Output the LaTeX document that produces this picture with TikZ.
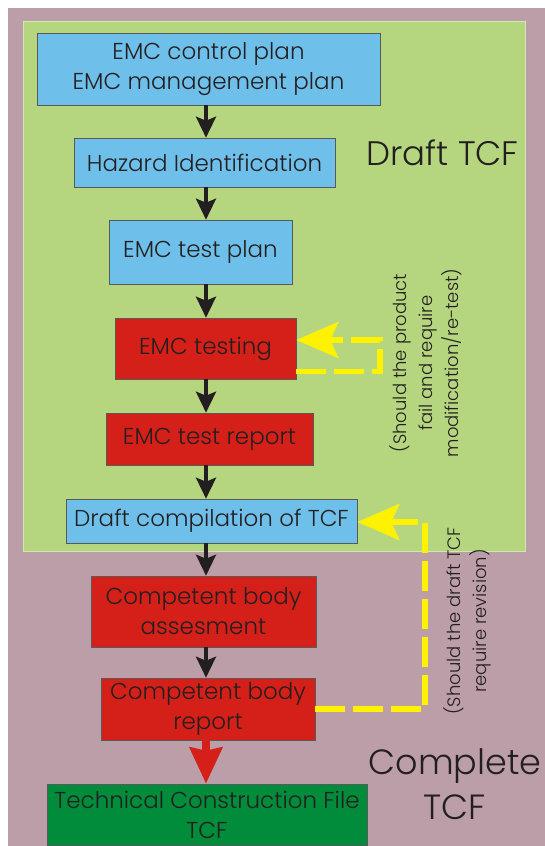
\documentclass[tikz,border=0pt]{standalone}
\usepackage{fontspec}
\setmainfont{Poppins}[UprightFont=* Light]
\usetikzlibrary{arrows.meta}

\definecolor{mauve}{HTML}{BC9EA8}
\definecolor{draftgreen}{HTML}{B5D67E}
\definecolor{stepblue}{HTML}{6EC0EA}
\definecolor{stepred}{HTML}{D42018}
\definecolor{filegreen}{HTML}{008C3A}
\definecolor{loopyellow}{HTML}{FFF200}
\definecolor{ink}{HTML}{231F20}

\tikzset{
	stepbox/.style={draw=black!65, line width=0.6pt, text=ink, align=center,
		font=\fontsize{23}{30}\selectfont, inner sep=0pt},
	bluebox/.style={stepbox, fill=stepblue},
	redbox/.style={stepbox, fill=stepred},
	flow/.style={line width=3.5pt, draw=ink, -{Stealth[length=21pt,width=20pt,inset=4pt]}},
	redflow/.style={line width=8pt, draw=stepred, -{Stealth[length=36pt,width=32pt,inset=3pt]}},
	retest/.style={line width=5.5pt, draw=loopyellow, dash pattern=on 30pt off 8pt,
		-{Stealth[length=42pt,width=36pt,inset=8pt,fill=loopyellow]}},
	note/.style={rotate=90, align=center, text=ink, font=\fontsize{18}{26}\selectfont},
	bigtext/.style={align=center, text=ink, font=\fontsize{34}{45}\selectfont}
}

\begin{document}
\begin{tikzpicture}[x=1pt,y=-1pt]
		%%%%% START %%%%%
		\useasboundingbox (0,0) rectangle (545,846);
		
		\fill[mauve] (7.5,7.5) rectangle (545,846);
		\draw[draftgreen!60!white, line width=0.8pt, fill=draftgreen] (23.5,21.7) rectangle (525,551);
		
		\coordinate (axis) at (206,0);
		
		\node[bluebox, minimum width=343pt, minimum height=72pt] (plan) at (208.5,69) {EMC control plan\\EMC management plan};
		\node[bluebox, minimum width=261pt, minimum height=49pt] (hazard) at (204.5,162.5) {Hazard Identification};
		\node[bluebox, minimum width=183pt, minimum height=64pt] (testplan) at (200.5,252) {EMC test plan};
		\node[redbox, minimum width=181pt, minimum height=61pt] (testing) at (205.5,348.5) {EMC testing};
		\node[redbox, minimum width=207pt, minimum height=52pt] (report) at (209.5,439) {EMC test report};
		\node[bluebox, minimum width=291pt, minimum height=44pt] (draft) at (211.5,521) {Draft compilation of TCF};
		
		\node[redbox, minimum width=225pt, minimum height=71pt] (assess) at (203.5,611.5) {Competent body\\assesment};
		\node[redbox, minimum width=214pt, minimum height=62pt] (cbreport) at (208,709) {Competent body\\report};
		\node[stepbox, fill=filegreen, minimum width=320pt, minimum height=61pt] (tcf) at (207,814.5) {Technical Construction File\\TCF};
		
		\draw[flow] (plan.south -| axis) -- (hazard.north -| axis);
		\draw[flow] (hazard.south -| axis) -- (testplan.north -| axis);
		\draw[flow] (testplan.south -| axis) -- (testing.north -| axis);
		\draw[flow] (testing.south -| axis) -- (report.north -| axis);
		\draw[flow] (report.south -| axis) -- (draft.north -| axis);
		\draw[flow] (draft.south -| axis) -- (assess.north -| axis);
		\draw[flow] (assess.south -| axis) -- (cbreport.north -| axis);
		\draw[redflow] (cbreport.south -| axis) -- (tcf.north -| axis);
		
		% loops back
		\coordinate (loopA) at (380,340);
		\coordinate (loopB) at (425,522);
		\draw[retest] ([yshift=8pt]testing.south east) -| (loopA) -- (testing.east |- loopA);
		\draw[retest] (cbreport.east) -| (loopB) -- (draft.east |- loopB);
		
		\node[note] (retestnote) at (426,363) {(Should the product\\fail and require\\modification/re-test)};
		\node[note] (revisenote) at (467,621) {(Should the draft TCF\\require revision)};
		
		\node[bigtext] (draftlabel) at (442.5,153) {Draft TCF};
		\node[bigtext, font=\fontsize{35}{45}\selectfont] (completelabel) at (455,784) {Complete\\TCF};
		
		%%%%% END %%%%%
	\end{tikzpicture}
\end{document}
